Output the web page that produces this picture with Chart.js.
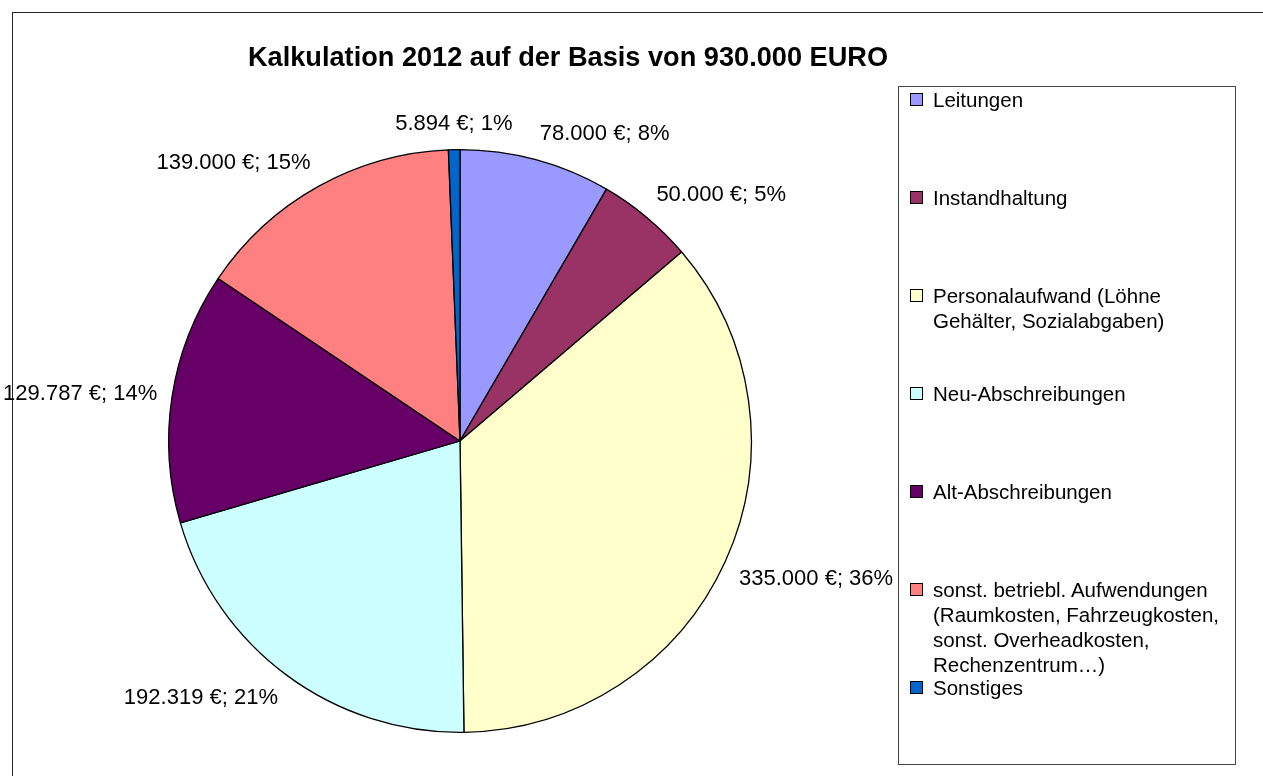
<!DOCTYPE html>
<html>
<head>
<meta charset="utf-8">
<script src="https://cdn.jsdelivr.net/npm/chart.js@4/dist/chart.umd.min.js"></script>
<style>
  body { margin: 0; background: #fff; font-family: "Liberation Sans", Arial, sans-serif; }
  #wrap { position: relative; width: 1263px; height: 776px; overflow: hidden; background: #fff; }
  #frame { position: absolute; left: 12px; top: 12px; width: 1300px; height: 800px; border: 1px solid #222; }
  #chart { position: absolute; left: 0; top: 0; }
  #title { position: absolute; left: 168px; width: 800px; top: 41px; text-align: center;
           font-weight: bold; font-size: 28px; color: #000; transform: scaleX(0.97); }
  #legend { position: absolute; left: 898px; top: 86px; width: 338px; height: 679px;
            border: 1px solid #444; box-sizing: border-box; background: #fff; }
  .item { position: relative; height: 98px; padding-left: 34px; font-size: 20.5px; line-height: 25px; color: #000; }
  .box { position: absolute; left: 11px; top: 6px; width: 11px; height: 11px; border: 1px solid #000; }
</style>
</head>
<body>
<div id="wrap">
  <div id="frame"></div>
  <canvas id="chart" width="1263" height="776"></canvas>
  <div id="title">Kalkulation 2012 auf der Basis von 930.000 EURO</div>
  <div id="legend"></div>
</div>
<script>
const categories = [
  "Leitungen",
  "Instandhaltung",
  ["Personalaufwand (Löhne", "Gehälter, Sozialabgaben)"],
  "Neu-Abschreibungen",
  "Alt-Abschreibungen",
  ["sonst. betriebl. Aufwendungen", "(Raumkosten, Fahrzeugkosten,", "sonst. Overheadkosten,", "Rechenzentrum…)"],
  "Sonstiges"
];
const amounts = [78000, 50000, 335000, 192319, 129787, 139000, 5894];
const colors = ["#9999FF", "#993366", "#FFFFCC", "#CCFFFF", "#660066", "#FF8080", "#0066CC"];

function euro(v) {
  return String(v).replace(/\B(?=(\d{3})+(?!\d))/g, ".");
}

// value labels outside each slice, anchored on the slice's middle angle
const sliceLabels = {
  id: "sliceLabels",
  afterDatasetsDraw(chart) {
    const ctx = chart.ctx;
    const data = chart.data.datasets[0].data;
    const total = data.reduce((a, b) => a + b, 0);
    ctx.save();
    ctx.font = "22px 'Liberation Sans', Arial, sans-serif";
    ctx.fillStyle = "#000";
    chart.getDatasetMeta(0).data.forEach((arc, i) => {
      const p = arc.getProps(["x", "y", "startAngle", "endAngle", "outerRadius"], true);
      const mid = (p.startAngle + p.endAngle) / 2;
      const r = p.outerRadius + 15;
      const cx = Math.cos(mid), sy = Math.sin(mid);
      const x = p.x + cx * r;
      const y = p.y + sy * r;
      ctx.textAlign = Math.abs(cx) < 0.1 ? "center" : (cx > 0 ? "left" : "right");
      ctx.textBaseline = sy < -0.3 ? "bottom" : (sy > 0.3 ? "top" : "middle");
      const pct = Math.round(data[i] / total * 100);
      ctx.fillText(euro(data[i]) + " €; " + pct + "%", x, y);
    });
    ctx.restore();
  }
};

const chart = new Chart(document.getElementById("chart"), {
  type: "pie",
  data: {
    labels: categories,
    datasets: [{
      data: amounts,
      backgroundColor: colors,
      borderColor: "#000",
      borderWidth: 1.3
    }]
  },
  options: {
    responsive: false,
    animation: false,
    layout: { padding: { left: 168, right: 511, top: 149, bottom: 43 } },
    plugins: {
      legend: { display: false },
      tooltip: { enabled: false }
    }
  },
  plugins: [sliceLabels]
});

// html legend so the long names can wrap like the original
const legendEl = document.getElementById("legend");
chart.data.labels.forEach((lab, i) => {
  const item = document.createElement("div");
  item.className = "item";
  const box = document.createElement("span");
  box.className = "box";
  box.style.background = colors[i];
  item.appendChild(box);
  const lines = Array.isArray(lab) ? lab : [lab];
  lines.forEach(l => {
    const d = document.createElement("div");
    d.textContent = l;
    item.appendChild(d);
  });
  legendEl.appendChild(item);
});
</script>
</body>
</html>
